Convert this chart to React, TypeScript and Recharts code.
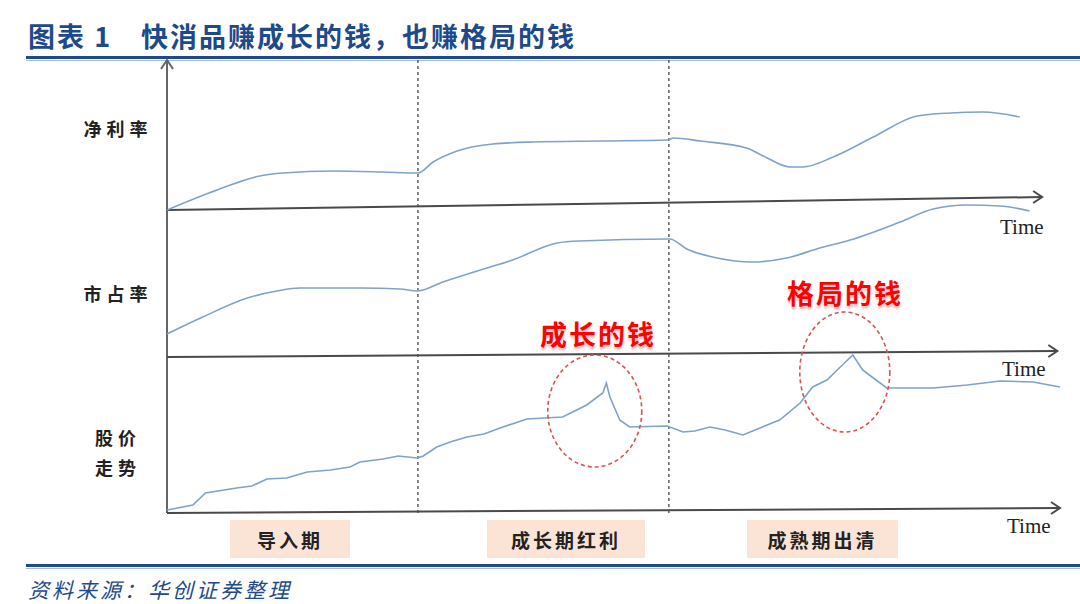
import React from "react";
import { LineChart, Line, XAxis, YAxis, ReferenceLine, ReferenceDot } from "recharts";

// time runs 0..100 across the plot, each panel's value is measured from its own baseline
const netMargin: [number, number][] = [
  [0, 0], [5.6, 20], [10.4, 34], [13, 37], [18.6, 39], [24.2, 38], [28.1, 37],
  [29.8, 48], [32.5, 59], [36.5, 66], [41, 68], [48.5, 69], [56.1, 70], [56.7, 72],
  [59.7, 69], [64.9, 62], [67.2, 52], [69.8, 43], [71.2, 43], [74.6, 53], [79.1, 73],
  [84, 94], [87.7, 97], [91.4, 98], [95.5, 93],
];

const marketShare: [number, number][] = [
  [0, 23], [4, 40], [9, 59], [12.3, 66], [14.9, 69], [21.6, 69], [26.1, 68], [28, 66],
  [30.9, 75], [35.1, 87], [38.7, 97], [43.7, 114], [46.2, 116], [56.3, 118], [58.2, 108],
  [61.1, 100], [65.6, 95], [69.4, 99], [73.1, 109], [76.5, 117], [82.1, 135], [85.8, 148],
  [89.6, 152], [93.3, 151], [96.6, 146],
];

const stockPrice: [number, number][] = [
  [0, 3], [2.9, 8], [4.3, 20], [7.8, 25], [9.5, 27], [11.2, 34], [13.4, 35], [15.7, 41],
  [18.3, 43], [20.5, 46], [21.6, 51], [24.2, 54], [25.9, 57], [28, 55], [28.7, 57],
  [30.2, 66], [31.7, 71], [33.6, 76], [35.5, 79], [37.3, 85], [40.3, 94], [44.3, 96], [47, 108],
  [48.8, 120], [49.2, 130], [49.6, 116], [50.7, 93], [51.8, 86], [56, 87], [57.8, 81],
  [59.1, 82], [60.8, 86], [62.5, 83], [64.5, 78], [67.2, 88], [68.6, 93], [70.9, 110],
  [72.3, 126], [73.9, 133], [75.4, 146], [76.8, 158], [77.9, 143], [79.1, 135],
  [80.6, 125], [85.8, 125], [89.6, 128], [93.3, 132], [97, 131], [100, 126],
];

const phaseBounds = [28.1, 56.2];
const phaseNames = ["导入期", "成长期红利", "成熟期出清"];
const panelNames = ["净利率", "市占率", "股价\n走势"];
const hotSpots = [
  { name: "成长的钱", t: 47.9, v: 102 },
  { name: "格局的钱", t: 75.9, v: 141 },
];

const toRows = (pts: [number, number][]) => pts.map(([t, v]) => ({ t, v }));

const AXIS = "#4a4a4a";
const CURVE = "#7ea3c9";
const BLUE = "#1c4a8a";
const CJK = '"Noto Sans CJK SC", "Noto Sans", sans-serif';

const HArrow = (p: any) => (
  <g>
    <line x1={p.x1} y1={p.y1} x2={p.x2} y2={p.y2} stroke={AXIS} strokeWidth={2} />
    <polyline
      points={`${p.x2 - 9},${p.y2 - 6} ${p.x2},${p.y2} ${p.x2 - 9},${p.y2 + 6}`}
      fill="none"
      stroke={AXIS}
      strokeWidth={2}
    />
  </g>
);

const VArrow = (p: any) => {
  const top = Math.min(p.y1, p.y2);
  const bottom = Math.max(p.y1, p.y2);
  return (
    <g>
      <line x1={p.x1} y1={top} x2={p.x1} y2={bottom} stroke="#666" strokeWidth={2} />
      <polyline
        points={`${p.x1 - 6},${top + 9} ${p.x1},${top} ${p.x1 + 6},${top + 9}`}
        fill="none"
        stroke="#666"
        strokeWidth={2}
      />
    </g>
  );
};

const Ellipse = (rx: number, ry: number) => (p: any) => (
  <ellipse cx={p.cx} cy={p.cy} rx={rx} ry={ry} fill="none" stroke="#d9534f" strokeWidth={1.6} strokeDasharray="4 3" />
);

export default function App() {
  return (
    <div style={{ position: "absolute", left: 0, top: 0, width: 1080, height: 604, background: "#fff", fontFamily: CJK }}>
      <div style={{ position: "absolute", left: 28, top: 16, fontSize: 27, fontWeight: 700, color: BLUE, letterSpacing: 2, whiteSpace: "pre" }}>
        {"图表 1　快消品赚成长的钱，也赚格局的钱"}
      </div>
      <div style={{ position: "absolute", left: 26, right: 0, top: 56, height: 3, background: BLUE }} />
      <div style={{ position: "absolute", left: 26, right: 0, top: 60, height: 1, background: "#a9bdd8" }} />

      <LineChart width={1080} height={604} data={[]} margin={{ top: 60, right: 20, bottom: 91, left: 167 }} style={{ position: "absolute", left: 0, top: 0 }}>
        <XAxis type="number" dataKey="t" domain={[0, 100]} hide allowDataOverflow />
        <YAxis yAxisId="m" domain={[-303, 150]} hide allowDataOverflow />
        <YAxis yAxisId="s" domain={[-156, 297]} hide allowDataOverflow />
        <YAxis yAxisId="p" domain={[0, 453]} hide allowDataOverflow />

        {phaseBounds.map((b) => (
          <ReferenceLine key={b} x={b} yAxisId="p" stroke="#555" strokeWidth={1.4} strokeDasharray="3 3" />
        ))}
        <ReferenceLine x={0} yAxisId="p" shape={VArrow} />
        <ReferenceLine yAxisId="m" segment={[{ x: 0, y: 0 }, { x: 98, y: 13 }]} shape={HArrow} />
        <ReferenceLine yAxisId="s" segment={[{ x: 0, y: 0 }, { x: 99.7, y: 6 }]} shape={HArrow} />
        <ReferenceLine yAxisId="p" segment={[{ x: 0, y: 0 }, { x: 100, y: 5 }]} shape={HArrow} />

        <Line yAxisId="m" data={toRows(netMargin)} dataKey="v" type="monotone" stroke={CURVE} strokeWidth={1.6} dot={false} isAnimationActive={false} />
        <Line yAxisId="s" data={toRows(marketShare)} dataKey="v" type="monotone" stroke={CURVE} strokeWidth={1.6} dot={false} isAnimationActive={false} />
        <Line yAxisId="p" data={toRows(stockPrice)} dataKey="v" type="linear" stroke={CURVE} strokeWidth={1.6} dot={false} isAnimationActive={false} />

        <ReferenceDot yAxisId="p" x={hotSpots[0].t} y={hotSpots[0].v} shape={Ellipse(47, 56)} />
        <ReferenceDot yAxisId="p" x={hotSpots[1].t} y={hotSpots[1].v} shape={Ellipse(45, 60)} />
      </LineChart>

      {/* panel names on the left */}
      {[126, 291, 452].map((cy, i) => (
        <div key={i} style={{ position: "absolute", left: 68, width: 100, top: cy - (i === 2 ? 30 : 13), textAlign: "center", fontSize: 18, fontWeight: 700, color: "#222", letterSpacing: 5, lineHeight: "30px", whiteSpace: "pre" }}>
          {panelNames[i]}
        </div>
      ))}

      {/* Time labels */}
      {[{ l: 1000, t: 215 }, { l: 1002, t: 357 }, { l: 1007, t: 514 }].map((p, i) => (
        <div key={i} style={{ position: "absolute", left: p.l, top: p.t, fontFamily: '"Liberation Serif", serif', fontSize: 21, color: "#222" }}>
          Time
        </div>
      ))}

      {/* red annotations */}
      {[{ x: 598, y: 333 }, { x: 845, y: 292 }].map((p, i) => (
        <div key={i} style={{ position: "absolute", left: p.x - 80, width: 160, top: p.y - 19, textAlign: "center", fontSize: 27, fontWeight: 700, color: "#ff0000", letterSpacing: 2, textShadow: "0 3px 2px rgba(255,120,120,0.45)" }}>
          {hotSpots[i].name}
        </div>
      ))}

      {/* phase boxes */}
      {[{ l: 230, w: 120 }, { l: 487, w: 158 }, { l: 747, w: 151 }].map((b, i) => (
        <div key={i} style={{ position: "absolute", left: b.l, width: b.w, top: 520, height: 38, background: "#fbe4d6", display: "flex", alignItems: "center", justifyContent: "center", fontSize: 19, fontWeight: 700, color: "#222", letterSpacing: 3 }}>
          {phaseNames[i]}
        </div>
      ))}

      <div style={{ position: "absolute", left: 26, right: 0, top: 564, height: 3, background: BLUE }} />
      <div style={{ position: "absolute", left: 26, right: 0, top: 568, height: 1, background: "#a9bdd8" }} />
      <div style={{ position: "absolute", left: 28, top: 574, fontSize: 21, fontStyle: "italic", color: BLUE, letterSpacing: 3 }}>
        资料来源：华创证券整理
      </div>
    </div>
  );
}
